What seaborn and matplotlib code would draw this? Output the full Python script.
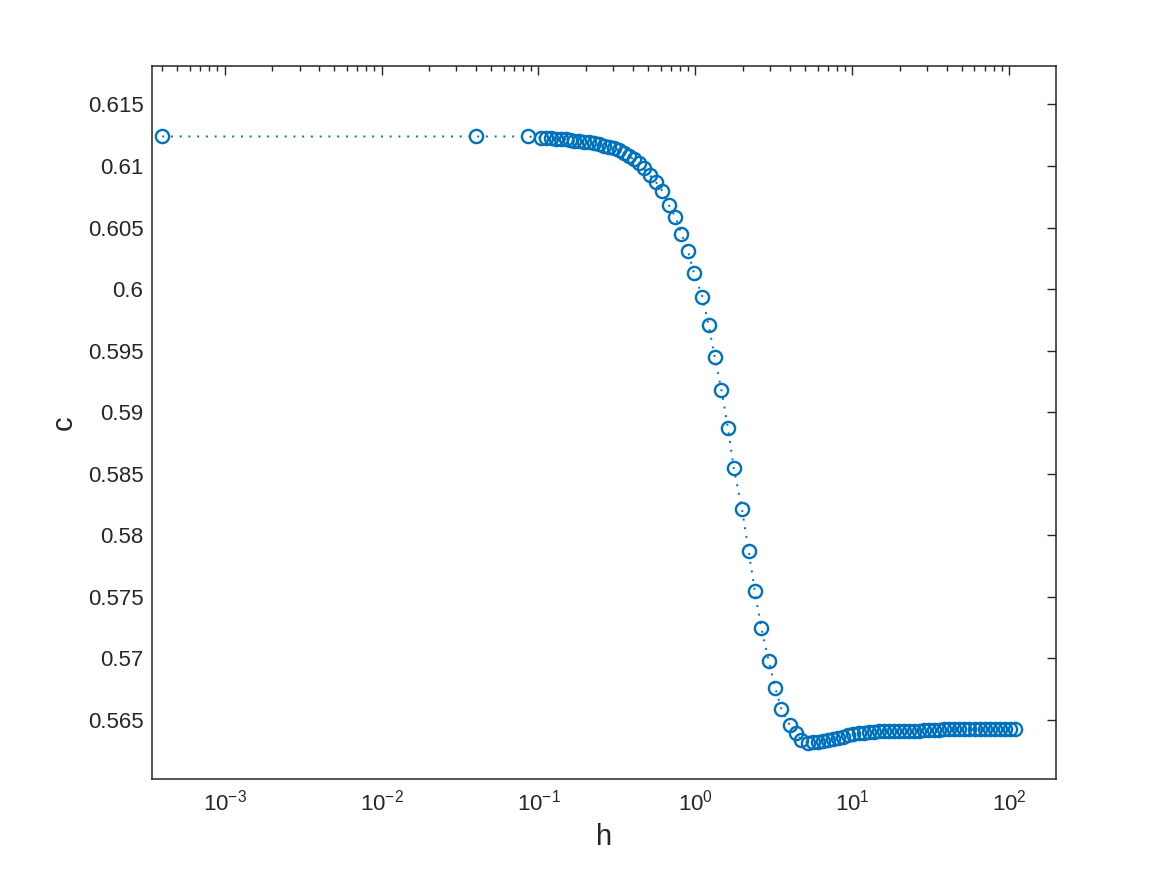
import numpy as np
import matplotlib
matplotlib.use("Agg")
import matplotlib.pyplot as plt
import seaborn as sns
from matplotlib.ticker import LogLocator, LogFormatterMathtext, FuncFormatter, MultipleLocator

# data
h = [0.0004, 0.04, 0.086,
     0.1033, 0.111, 0.1197, 0.1288, 0.1385, 0.149, 0.158, 0.168, 0.181, 0.194,
     0.209, 0.225, 0.242, 0.261, 0.280, 0.301, 0.324, 0.349, 0.376, 0.404,
     0.435, 0.468, 0.511, 0.558, 0.616, 0.679, 0.746, 0.814, 0.897, 0.980,
     1.108, 1.216, 1.327, 1.465, 1.614, 1.754, 1.982, 2.187, 2.388, 2.634,
     2.933, 3.235, 3.533, 3.99, 4.40, 4.74, 5.22, 5.62, 6.05, 6.52, 7.02,
     7.56, 8.14, 8.77, 9.44, 10.17, 10.95, 11.79, 12.70, 13.67, 14.73, 15.86,
     17.08, 18.39, 19.80, 21.3, 22.96, 24.7, 26.6, 28.7, 30.9, 33.2, 35.8,
     38.5, 41.5, 44.7, 48.1, 51.8, 55.8, 60.1, 64.7, 69.7, 75.0, 80.8, 87.0,
     93.7, 100.9, 108.7]
c = [0.6124, 0.6124, 0.6124,
     0.61230, 0.61228, 0.61225, 0.61222, 0.61220, 0.61216, 0.61211, 0.61203,
     0.61200, 0.61197, 0.61192, 0.61184, 0.61176, 0.61165, 0.61157, 0.61144,
     0.61130, 0.61108, 0.61084, 0.61054, 0.61022, 0.60981, 0.60927, 0.60872,
     0.60797, 0.60680, 0.60585, 0.60450, 0.60309, 0.60128, 0.59937, 0.59705,
     0.59450, 0.59179, 0.58868, 0.58547, 0.58209, 0.57870, 0.57547, 0.57242,
     0.56979, 0.56754, 0.56583, 0.56456, 0.56388, 0.56334, 0.56312, 0.56315,
     0.56320, 0.56328, 0.56334, 0.56342, 0.56352, 0.56361, 0.56372, 0.56380,
     0.56388, 0.56393, 0.56396, 0.56401, 0.56407, 0.56408, 0.56409, 0.56410,
     0.56410, 0.56410, 0.56410, 0.56411, 0.56411, 0.56412, 0.56414, 0.56416,
     0.56418, 0.56420, 0.56420, 0.56420, 0.56420, 0.56420, 0.56420, 0.56420,
     0.56420, 0.56420, 0.56420, 0.56420, 0.56420, 0.56420, 0.56420, 0.56420]

BLUE = "#0072BD"
DARK = "#262626"

sns.set_style("white")
plt.rcParams["font.family"] = ["Liberation Sans", "DejaVu Sans"]
plt.rcParams["mathtext.fontset"] = "custom"
plt.rcParams["mathtext.rm"] = "Liberation Sans"
plt.rcParams["axes.unicode_minus"] = False

fig = plt.figure(figsize=(11.67, 8.75), dpi=100)
ax = fig.add_axes([0.13, 0.11, 0.775, 0.815])

sns.lineplot(x=h, y=c, ax=ax, estimator=None, sort=False,
             color=BLUE, linestyle=(0, (1, 3.5)), linewidth=1.4,
             marker="o", markersize=9.5, markerfacecolor="none",
             markeredgecolor=BLUE, markeredgewidth=1.7)

ax.set_xscale("log")
ax.set_xlim(3.43e-4, 199)
ax.set_ylim(0.56019, 0.61816)

ax.xaxis.set_major_locator(LogLocator(base=10, numticks=20))
ax.xaxis.set_minor_locator(LogLocator(base=10, subs=np.arange(2, 10), numticks=20))
ax.xaxis.set_major_formatter(LogFormatterMathtext())
ax.yaxis.set_major_locator(MultipleLocator(0.005))
ax.yaxis.set_major_formatter(FuncFormatter(lambda v, p: "%g" % round(v, 4)))

ax.tick_params(which="both", direction="in", top=True, right=True,
               color=DARK, labelcolor=DARK, labelsize=16, width=1.0)
ax.tick_params(which="major", length=6.5)
ax.tick_params(which="minor", length=3.6)
ax.tick_params(axis="x", pad=8)
ax.tick_params(axis="y", pad=6)
for s in ax.spines.values():
    s.set_color(DARK)
    s.set_linewidth(1.1)

ax.set_xlabel("h", fontsize=21, color=DARK, labelpad=5)
ax.set_ylabel("c", fontsize=21, color=DARK, labelpad=7)

fig.savefig("out.png", dpi=100)
